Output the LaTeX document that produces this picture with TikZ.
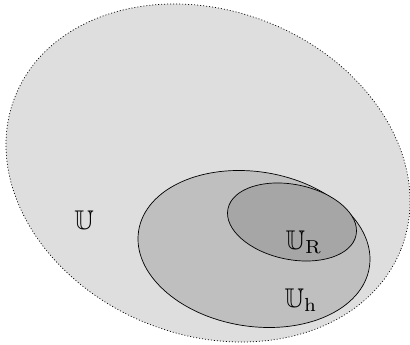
\documentclass[tikz,border=0pt]{standalone}
\usepackage{amssymb}
\begin{document}
\begin{tikzpicture}[x=1pt,y=1pt,
  outerset/.style={fill=black!13, draw=black, dash pattern=on 1pt off 2pt, line width=0.7pt},
  innerset/.style={draw=black, line width=0.7pt},
  lbl/.style={inner sep=0pt, scale=2.7}]
\useasboundingbox (0,0) rectangle (410,345);
\clip (0,0) rectangle (410,345);
\path[outerset] (208,172) ellipse [x radius=207.5, y radius=162.2, rotate=-21.5];
\path[innerset, fill=black!25] (254,96) ellipse [x radius=116.8, y radius=77.3, rotate=-9];
\path[innerset, fill=black!35] (292,123) ellipse [x radius=65.4, y radius=37.5, rotate=-11.6];
\node[lbl] (U) at (84,125) {$\mathbb{U}$};
\node[lbl] (UR) at (304,103) {$\mathbb{U}_{\mathrm{R}}$};
\node[lbl] (Uh) at (301,45) {$\mathbb{U}_{\mathrm{h}}$};
\end{tikzpicture}
\end{document}
